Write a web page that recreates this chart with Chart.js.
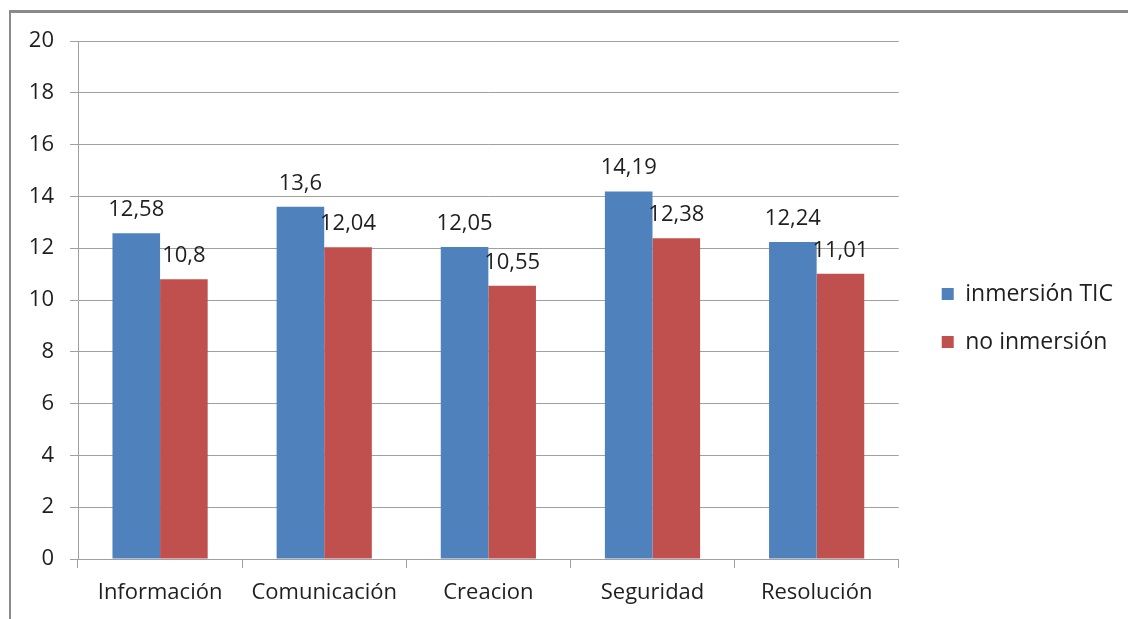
<!DOCTYPE html>
<html>
<head>
<meta charset="utf-8">
<script src="https://cdn.jsdelivr.net/npm/chart.js@4.4.0/dist/chart.umd.min.js"></script>
<style>
  html, body { margin: 0; padding: 0; background: #ffffff; font-family: 'Open Sans', sans-serif; }
  #wrap { position: relative; width: 1128px; height: 619px; overflow: hidden; }
  #frame { position: absolute; left: 9px; top: 10px; width: 1200px; height: 700px;
           border-top: 3px solid #8a8a8a; border-left: 2px solid #8a8a8a; }
  #c { position: absolute; left: 0; top: 0; }
</style>
</head>
<body>
<div id="wrap">
  <div id="frame"></div>
  <canvas id="c" width="1128" height="619"></canvas>
</div>
<script>
const categories = ["Información", "Comunicación", "Creacion", "Seguridad", "Resolución"];
const inmersionTIC = [12.58, 13.6, 12.05, 14.19, 12.24];
const noInmersion = [10.8, 12.04, 10.55, 12.38, 11.01];
const seriesNames = ["inmersión TIC", "no inmersión"];
const yTicks = [0, 2, 4, 6, 8, 10, 12, 14, 16, 18, 20];

const FONT = "'Open Sans', sans-serif";
const FS = 22;
const LFS = 23;
const TEXT = "#1f1f1f";
const GRID = "#a0a0a0";

const valueLabels = {
  id: 'valueLabels',
  afterDatasetsDraw(chart) {
    const ctx = chart.ctx;
    ctx.save();
    ctx.font = FS + "px " + FONT;
    ctx.fillStyle = TEXT;
    ctx.textAlign = 'center';
    ctx.textBaseline = 'alphabetic';
    chart.data.datasets.forEach((ds, i) => {
      const meta = chart.getDatasetMeta(i);
      meta.data.forEach((bar, j) => {
        const txt = String(ds.data[j]).replace('.', ',');
        ctx.fillText(txt, bar.x, bar.y - 17);
      });
    });
    ctx.restore();
  }
};

function build() {
  new Chart(document.getElementById('c'), {
    type: 'bar',
    data: {
      labels: categories,
      datasets: [
        { label: seriesNames[0], data: inmersionTIC, backgroundColor: '#4F81BD' },
        { label: seriesNames[1], data: noInmersion, backgroundColor: '#C0504D' }
      ]
    },
    options: {
      responsive: false,
      animation: false,
      devicePixelRatio: 1,
      layout: { padding: { top: 41, left: 0, right: -6.5, bottom: 0 } },
      datasets: { bar: { categoryPercentage: 0.58, barPercentage: 1.0 } },
      scales: {
        x: {
          offset: true,
          grid: { display: true, drawOnChartArea: false, drawTicks: true, tickLength: 9, offset: true, color: GRID },
          border: { display: true, color: GRID },
          ticks: { color: TEXT, font: { family: FONT, size: FS }, padding: 12, maxRotation: 0 },
          afterFit(scale) { scale.height = 60; }
        },
        y: {
          min: 0, max: 20,
          afterBuildTicks(scale) { scale.ticks = yTicks.map(v => ({ value: v })); },
          ticks: { color: TEXT, font: { family: FONT, size: FS }, padding: 16 },
          grid: { color: GRID, tickLength: 8 },
          border: { display: true, color: GRID },
          afterFit(scale) { scale.width = 78; }
        },
        yspace: {
          position: 'right',
          display: true,
          min: 0, max: 20,
          grid: { display: false, drawOnChartArea: false },
          border: { display: false },
          ticks: { display: false },
          afterFit(scale) { scale.width = 18; }
        }
      },
      plugins: {
        legend: {
          position: 'right',
          align: 'start',
          maxWidth: 400,
          title: { display: true, text: ' ', font: { size: 10, lineHeight: 1 }, padding: { top: 0, bottom: 206.5 } },
          labels: {
            color: TEXT,
            font: { family: FONT, size: LFS },
            boxWidth: 12, boxHeight: 12, padding: 25,
            generateLabels(chart) {
              const items = Chart.defaults.plugins.legend.labels.generateLabels(chart);
              items.forEach(it => { it.text = it.text + '\u2002'; });
              return items;
            }
          }
        },
        tooltip: { enabled: false }
      }
    },
    plugins: [valueLabels]
  });
}

if (document.fonts && document.fonts.load) {
  document.fonts.load(FS + "px 'Open Sans'").then(build, build);
} else {
  build();
}
</script>
</body>
</html>
